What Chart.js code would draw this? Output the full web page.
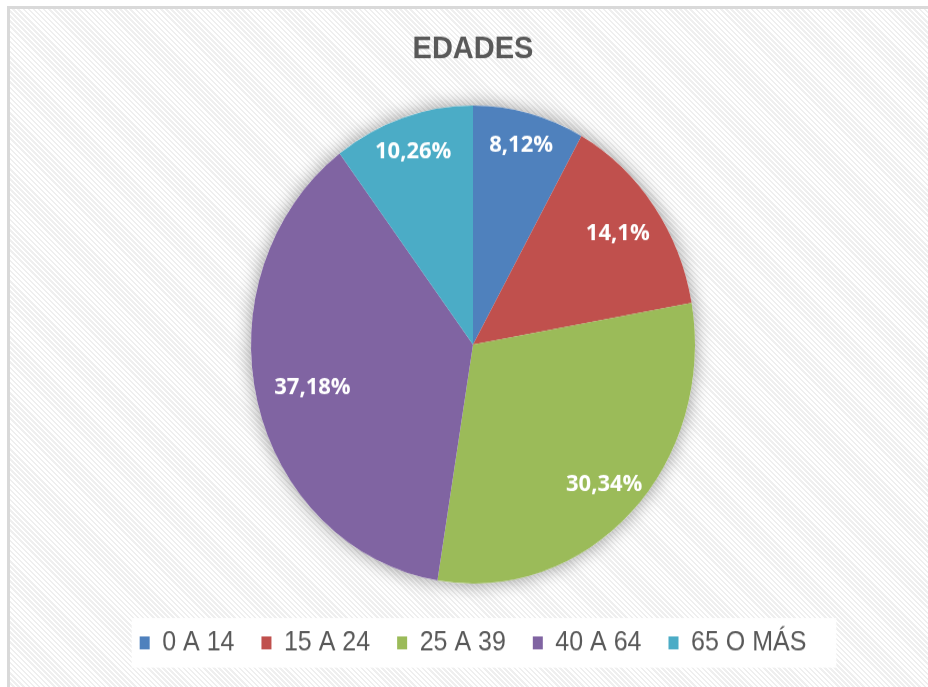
<!DOCTYPE html>
<html lang="es">
<head>
<meta charset="utf-8">
<title>EDADES</title>
<script src="https://cdn.jsdelivr.net/npm/chart.js@4.4.1/dist/chart.umd.min.js"></script>
<style>
    html, body { margin: 0; padding: 0; background: #fff; overflow: hidden; }
    body { width: 928px; height: 687px; position: relative; }
    .frame {
        position: absolute; left: 7px; top: 6px; width: 1000px; height: 800px;
        border-left: 3px solid #d9d9d9; border-top: 3px solid #d9d9d9;
        background: repeating-linear-gradient(45deg, #ffffff 0 1.8px, #efefef 1.8px 3.6px);
    }
    .stretch {
        position: absolute; left: 0; top: 0; width: 928px; height: 638px;
        transform: scaleY(1.0768); transform-origin: 0 0;
    }
</style>
</head>
<body>
<div class="frame"></div>
<div class="stretch"><canvas id="chart" width="928" height="638"></canvas></div>
<script>
const categories = ['0 A 14', '15 A 24', '25 A 39', '40 A 64', '65 O MÁS'];
const shares = [8.12, 14.1, 30.34, 37.18, 10.26];
const sliceColors = ['#4f81bd', '#c0504d', '#9bbb59', '#8064a2', '#4bacc6'];

// how far out (fraction of radius) each percentage label sits
const labelDepth = [0.86, 0.80, 0.83, 0.745, 0.85];

Chart.defaults.font.family = "'Liberation Sans', Arial, sans-serif";
Chart.defaults.color = '#595959';

const pieShadow = {
    id: 'pieShadow',
    beforeDatasetsDraw(chart) {
        const arc = chart.getDatasetMeta(0).data[0];
        if (!arc) return;
        const ctx = chart.ctx;
        ctx.save();
        ctx.shadowColor = 'rgba(0, 0, 0, 0.4)';
        ctx.shadowBlur = 18;
        ctx.fillStyle = '#ffffff';
        ctx.beginPath();
        ctx.arc(arc.x, arc.y, arc.outerRadius, 0, Math.PI * 2);
        ctx.fill();
        ctx.restore();
    }
};

const legendBackdrop = {
    id: 'legendBackdrop',
    beforeDraw(chart) {
        const boxes = chart.legend && chart.legend.legendHitBoxes;
        if (!boxes || !boxes.length) return;
        const first = boxes[0];
        const last = boxes[boxes.length - 1];
        const mid = first.top + first.height / 2;
        const ctx = chart.ctx;
        ctx.save();
        ctx.fillStyle = '#ffffff';
        ctx.fillRect(first.left - 8, mid - 23, last.left + last.width + 30 - (first.left - 8), 46);
        ctx.restore();
    }
};

const sliceLabels = {
    id: 'sliceLabels',
    afterDatasetsDraw(chart) {
        const ctx = chart.ctx;
        const arcs = chart.getDatasetMeta(0).data;
        ctx.save();
        ctx.fillStyle = '#ffffff';
        ctx.font = "bold 22px 'Open Sans', sans-serif";
        ctx.textAlign = 'center';
        ctx.textBaseline = 'middle';
        arcs.forEach((arc, i) => {
            const mid = (arc.startAngle + arc.endAngle) / 2;
            const r = arc.outerRadius * labelDepth[i];
            const text = String(shares[i]).replace('.', ',') + '%';
            ctx.fillText(text, arc.x + Math.cos(mid) * r, arc.y + Math.sin(mid) * r);
        });
        ctx.restore();
    }
};

new Chart(document.getElementById('chart'), {
    type: 'pie',
    data: {
        labels: categories,
        datasets: [{
            data: shares,
            backgroundColor: sliceColors,
            borderWidth: 0,
            radius: 222,
        }],
    },
    options: {
        responsive: false,
        animation: false,
        layout: {
            padding: { top: 10, left: 18, right: 0, bottom: 18.5 },
        },
        plugins: {
            title: {
                display: true,
                text: 'EDADES',
                color: '#595959',
                font: { size: 29, weight: 'bold' },
                padding: { top: 18.6, bottom: 19 },
            },
            legend: {
                position: 'bottom',
                labels: {
                    color: '#595959',
                    font: { size: 25 },
                    boxWidth: 10,
                    boxHeight: 12,
                    padding: 27,
                },
            },
            tooltip: { enabled: false },
        },
    },
    plugins: [legendBackdrop, pieShadow, sliceLabels],
});
</script>
</body>
</html>
